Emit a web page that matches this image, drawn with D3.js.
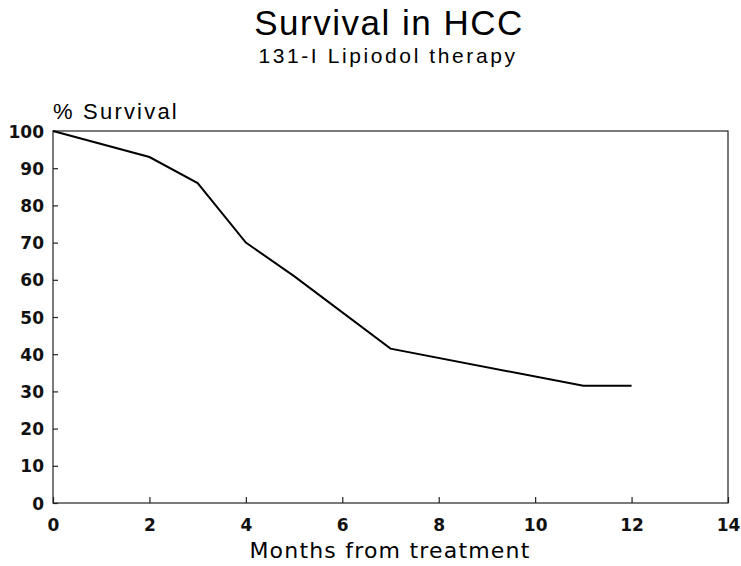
<!DOCTYPE html>
<html>
<head>
<meta charset="utf-8">
<script src="https://d3js.org/d3.v7.min.js"></script>
<style>
  body { margin: 0; background: #fff; }
  svg { display: block; }
</style>
</head>
<body>
<script>
// Data
const months = [0, 2, 3, 4, 5, 7, 11, 12];
const survival = [100, 93, 86, 70, 61, 41.5, 31.5, 31.5];
const xTicks = [0, 2, 4, 6, 8, 10, 12, 14];
const yTicks = [0, 10, 20, 30, 40, 50, 60, 70, 80, 90, 100];

const W = 741, H = 566;
const margin = { top: 131, right: 13, bottom: 63, left: 53 };
const width = W - margin.left - margin.right;
const height = H - margin.top - margin.bottom;

const svg = d3.select("body").append("svg")
  .attr("width", W)
  .attr("height", H);

// Titles
svg.append("text")
  .attr("x", 389).attr("y", 35)
  .attr("text-anchor", "middle")
  .style("font-family", "Liberation Sans, Arial, sans-serif")
  .style("font-size", "35px")
  .style("letter-spacing", "1.5px")
  .text("Survival in HCC");

svg.append("text")
  .attr("x", 388).attr("y", 63)
  .attr("text-anchor", "middle")
  .style("font-family", "Liberation Sans, Arial, sans-serif")
  .style("font-size", "21px")
  .style("letter-spacing", "2.6px")
  .text("131-I Lipiodol therapy");

const g = svg.append("g")
  .attr("transform", `translate(${margin.left},${margin.top})`);

const x = d3.scaleLinear().domain([0, 14]).range([0, width]);
const y = d3.scaleLinear().domain([0, 100]).range([height, 0]);

// frame
g.append("rect")
  .attr("x", 0).attr("y", 0)
  .attr("width", width).attr("height", height)
  .attr("fill", "none")
  .attr("stroke", "#222")
  .attr("stroke-width", 1.2);

// axes with inward ticks
const xAxis = g.append("g")
  .attr("transform", `translate(0,${height})`)
  .call(d3.axisBottom(x).tickValues(xTicks).tickSizeInner(-6).tickSizeOuter(0).tickPadding(16));

const yAxis = g.append("g")
  .call(d3.axisLeft(y).tickValues(yTicks).tickSizeInner(-5).tickSizeOuter(0).tickPadding(9));

[xAxis, yAxis].forEach(a => {
  a.select(".domain").remove();
  a.selectAll("line").attr("stroke", "#222").attr("stroke-width", 1.2);
  a.selectAll("text")
    .attr("fill", "#111")
    .style("font-family", "DejaVu Sans, Verdana, sans-serif")
    .style("font-weight", "bold")
    .style("font-size", "17px");
});
yAxis.selectAll("text").attr("dy", "0.36em");

// survival curve
const line = d3.line()
  .x((d, i) => x(months[i]))
  .y(d => y(d));

g.append("path")
  .datum(survival)
  .attr("d", line)
  .attr("fill", "none")
  .attr("stroke", "#000")
  .attr("stroke-width", 2);

// axis titles
svg.append("text")
  .attr("x", 53).attr("y", 119)
  .style("font-family", "Liberation Sans, Arial, sans-serif")
  .style("font-size", "22px")
  .style("letter-spacing", "2.2px")
  .text("% Survival");

svg.append("text")
  .attr("x", 390).attr("y", 558)
  .attr("text-anchor", "middle")
  .style("font-family", "DejaVu Sans, Verdana, sans-serif")
  .style("font-size", "22px")
  .style("letter-spacing", "1.2px")
  .text("Months from treatment");
</script>
</body>
</html>
